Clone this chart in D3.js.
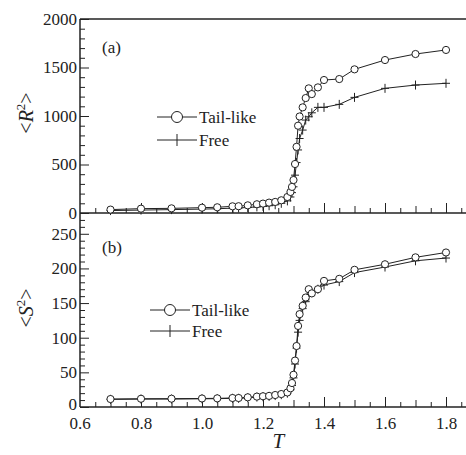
<!DOCTYPE html>
<html>
<head>
<meta charset="utf-8">
<script src="https://cdn.jsdelivr.net/npm/d3@7"></script>
<style>
  body { margin: 0; background: #fff; }
  svg text { font-family: "Liberation Serif", "Times New Roman", serif; fill: #222; }
</style>
</head>
<body>
<div class="chart"></div>
<script>
// temperatures (shared by all series)
let temps = [0.7, 0.8, 0.9, 1.0, 1.05, 1.1, 1.12, 1.15, 1.18, 1.2, 1.22, 1.24, 1.26, 1.28, 1.29, 1.295,
             1.3, 1.305, 1.31, 1.315, 1.32, 1.33, 1.34, 1.35, 1.36, 1.38, 1.4, 1.45, 1.5, 1.6, 1.7, 1.8];

// <R^2>
let r2Tail = [35, 45, 48, 55, 59, 69, 70, 79, 90, 97, 107, 114, 131, 165, 217, 269,
              340, 505, 682, 900, 995, 1089, 1185, 1285, 1226, 1295, 1371, 1381, 1481, 1577, 1639, 1681];
let r2Free = [25, 30, 35, 40, 44, 50, 52, 57, 63, 68, 75, 85, 100, 125, 165, 210,
              270, 390, 520, 650, 768, 855, 958, 992, 1033, 1089, 1089, 1120, 1192, 1285, 1319, 1337];

// <S^2>
let s2Tail = [11.5, 11.9, 12, 12.3, 12.5, 13, 13, 14, 15, 15.5, 16, 17.3, 18.7, 21, 27, 34.6,
              46.5, 67, 88, 117, 134, 146, 158, 170, 164, 170, 182, 185, 198, 206, 216, 223];
let s2Free = [11, 11.4, 11.5, 11.8, 12, 12.5, 12.5, 13.4, 14.3, 14.8, 15.3, 16.5, 17.8, 20, 25, 31,
              42, 62, 85, 108, 125, 142, 152, 160, 165, 170, 176, 181, 194, 202, 211, 215];

let xTicksMajor = [0.6, 0.8, 1.0, 1.2, 1.4, 1.6, 1.8];
let r2TicksMajor = [0, 500, 1000, 1500, 2000];
let s2TicksMajor = [0, 50, 100, 150, 200, 250];

let legendNames = ["Tail-like", "Free"];

const width = 466, height = 455;
const left = 80, right = 476.5;
const top1 = 19, mid = 213, bot2 = 407;
const ink = "#222";
const serif = "'Liberation Serif', 'Times New Roman', serif";

let svg = d3.select(".chart").append("svg").attr("width", width).attr("height", height);

let x = d3.scaleLinear().domain([0.6, 1.9]).range([left, right]);
let yTop = d3.scaleLinear().domain([0, 2000]).range([mid, top1]);
let yBot = d3.scaleLinear().domain([0, 280]).range([bot2, mid]);

// tick positions
let xMinor = d3.range(13, 38).map(function(k){ return k * 0.05; }).filter(function(v){ return Math.abs(v * 10 - Math.round(v * 10)) > 0.01; });
let xMedium = d3.range(7, 19).map(function(k){ return k / 10; }).filter(function(v){ return Math.round(v * 10) % 2 == 1; });

function xTicks(g, y0, labels) {
    let ax = g.append("g").attr("transform", "translate(0," + y0 + ")");
    ax.append("g").call(d3.axisBottom(x).tickValues(xMinor).tickSizeInner(-5).tickSizeOuter(0).tickFormat(""));
    ax.append("g").call(d3.axisBottom(x).tickValues(xMedium).tickSizeInner(-7).tickSizeOuter(0).tickFormat(""));
    ax.append("g").call(d3.axisBottom(x).tickValues(xTicksMajor.slice(1)).tickSizeInner(-10).tickSizeOuter(0)
        .tickFormat(labels ? d3.format(".1f") : ""));
    if (labels) {
        // label for 0.6 sits at the corner
        ax.append("text").attr("x", x(0.6)).attr("y", 22).attr("text-anchor", "middle")
            .style("font-size", "17px").style("font-family", serif).text("0.6");
    }
    ax.selectAll(".domain").remove();
    ax.selectAll("line").attr("stroke", ink);
    ax.selectAll(".tick text").attr("y", 10).style("font-size", "17px").style("font-family", serif).attr("fill", ink);
}

function yTicks(g, scale, major, minorStep, maxMinor, lowShift) {
    let minor = d3.range(0, maxMinor + 0.001, minorStep).filter(function(v){ return major.indexOf(v) < 0; });
    let ax = g.append("g").attr("transform", "translate(" + left + ",0)");
    ax.append("g").call(d3.axisLeft(scale).tickValues(minor).tickSizeInner(-5).tickSizeOuter(0).tickFormat(""));
    ax.append("g").call(d3.axisLeft(scale).tickValues(major).tickSizeInner(-9).tickSizeOuter(0).tickFormat(d3.format("d")));
    ax.selectAll(".domain").remove();
    ax.selectAll("line").attr("stroke", ink);
    ax.selectAll(".tick text").attr("x", -3).style("font-size", "17px").style("font-family", serif).attr("fill", ink);
    // keep the bottom zero clear of the x labels
    ax.selectAll(".tick text").filter(function(d){ return d === 0; }).attr("y", -lowShift);
}

function drawSeries(g, scale, tail, free) {
    let pts = function(vals) { return temps.map(function(t, i){ return [t, vals[i]]; }); };
    let line = d3.line().x(function(d){ return x(d[0]); }).y(function(d){ return scale(d[1]); });

    g.append("path").datum(pts(free)).attr("d", line).attr("fill", "none").attr("stroke", ink).attr("stroke-width", 1);
    g.append("path").datum(pts(tail)).attr("d", line).attr("fill", "none").attr("stroke", ink).attr("stroke-width", 1);

    g.selectAll(".cross").data(pts(free)).enter().append("path").attr("class", "cross")
        .attr("d", function(d){
            let cx = x(d[0]), cy = scale(d[1]);
            return "M" + (cx - 4) + "," + cy + "H" + (cx + 4) + "M" + cx + "," + (cy - 4.5) + "V" + (cy + 4.5);
        })
        .attr("stroke", ink).attr("stroke-width", 1);

    g.selectAll(".circ").data(pts(tail)).enter().append("circle").attr("class", "circ")
        .attr("cx", function(d){ return x(d[0]); })
        .attr("cy", function(d){ return scale(d[1]); })
        .attr("r", 3.6).attr("fill", "#fff").attr("stroke", ink).attr("stroke-width", 1);
}

function drawLegend(g, lx, ly, gap) {
    // tail-like
    g.append("line").attr("x1", lx).attr("x2", lx + 40).attr("y1", ly).attr("y2", ly).attr("stroke", ink);
    g.append("circle").attr("cx", lx + 20).attr("cy", ly).attr("r", 5.5).attr("fill", "#fff").attr("stroke", ink);
    g.append("text").attr("x", lx + 42).attr("y", ly + 6).style("font-size", "17px").text(legendNames[0]);
    // free
    let y2 = ly + gap;
    g.append("line").attr("x1", lx).attr("x2", lx + 40).attr("y1", y2).attr("y2", y2).attr("stroke", ink);
    g.append("line").attr("x1", lx + 20).attr("x2", lx + 20).attr("y1", y2 - 6).attr("y2", y2 + 6).attr("stroke", ink);
    g.append("text").attr("x", lx + 42).attr("y", y2 + 6).style("font-size", "17px").text(legendNames[1]);
}

let plot = svg.append("g");

// frame lines
plot.append("line").attr("x1", left).attr("x2", right).attr("y1", top1).attr("y2", top1).attr("stroke", ink).attr("stroke-width", 1.3);
plot.append("line").attr("x1", left).attr("x2", right).attr("y1", mid).attr("y2", mid).attr("stroke", ink).attr("stroke-width", 1.5);
plot.append("line").attr("x1", left).attr("x2", right).attr("y1", bot2).attr("y2", bot2).attr("stroke", ink).attr("stroke-width", 1.5);
plot.append("line").attr("x1", left).attr("x2", left).attr("y1", top1).attr("y2", bot2).attr("stroke", ink).attr("stroke-width", 1.5);

xTicks(plot, mid, false);
xTicks(plot, bot2, true);
yTicks(plot, yTop, r2TicksMajor, 100, 1900, 0);
yTicks(plot, yBot, s2TicksMajor, 10, 270, 3);

drawSeries(plot.append("g"), yTop, r2Tail, r2Free);
drawSeries(plot.append("g"), yBot, s2Tail, s2Free);

drawLegend(plot, 157, 117, 23);
drawLegend(plot, 150, 310, 21);

// panel tags
plot.append("text").attr("x", 102).attr("y", 53).style("font-size", "17px").text("(a)");
plot.append("text").attr("x", 102).attr("y", 253).style("font-size", "17px").text("(b)");

// axis titles
function yTitle(cy, letter) {
    let t = svg.append("text").attr("transform", "translate(33," + cy + ") rotate(-90)")
        .attr("text-anchor", "middle").style("font-size", "20px");
    t.append("tspan").text("<");
    t.append("tspan").style("font-style", "italic").text(letter);
    t.append("tspan").attr("dy", -8).style("font-size", "13px").text("2");
    t.append("tspan").attr("dy", 8).text(">");
}
yTitle(113, "R");
yTitle(308, "S");

svg.append("text").attr("x", x(1.25)).attr("y", 448).attr("text-anchor", "middle")
    .style("font-size", "21px").style("font-style", "italic").text("T");
</script>
</body>
</html>
